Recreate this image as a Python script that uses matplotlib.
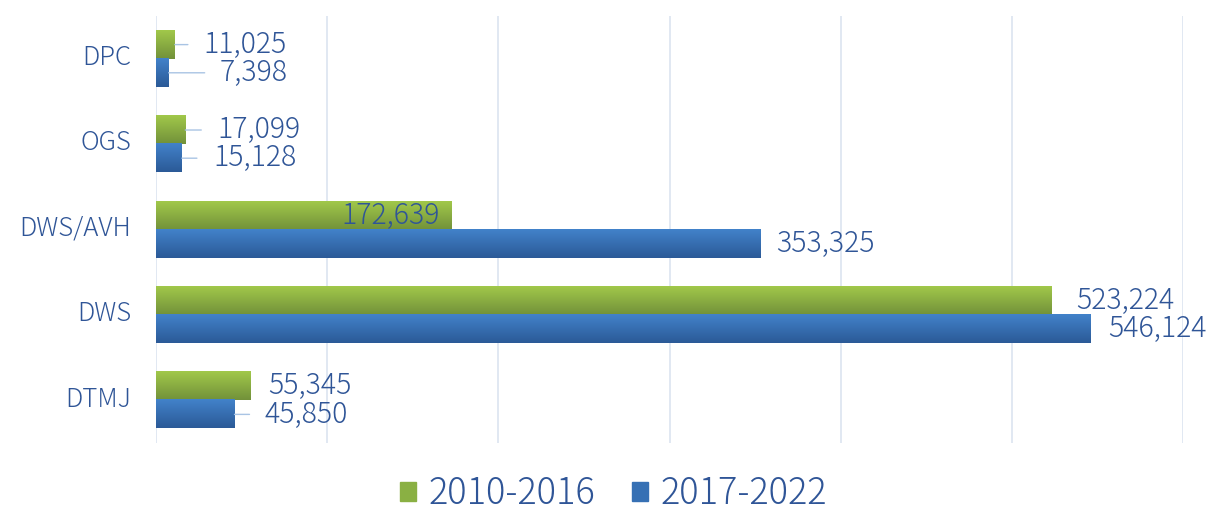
import matplotlib.pyplot as plt
import matplotlib.transforms as mtransforms
import numpy as np
from matplotlib.colors import LinearSegmentedColormap
from matplotlib.patches import Patch

plt.rcParams["font.family"] = ["Noto Sans CJK JP", "DejaVu Sans"]

categories = ["DPC", "OGS", "DWS/AVH", "DWS", "DTMJ"]
series_names = ["2010-2016", "2017-2022"]
values_2010_2016 = [11025, 17099, 172639, 523224, 55345]
values_2017_2022 = [7398, 15128, 353325, 546124, 45850]

# label placement (pixels from bar end), leader line length in pixels (0 = none)
label_off_green = [29, 32, -12, 25, 17]
line_len_green = [13, 16, 0, 0, 0]
label_off_blue = [51, 31, 15, 17, 30]
line_len_blue = [36, 15, 0, 0, 15]

text_color = "#2F5597"
grid_color = "#DCE4F0"
green_grad = ("#A1C84A", "#72913A")
blue_grad = ("#4282CA", "#2B5A97")

fig = plt.figure(figsize=(12.15, 5.14), dpi=100)
ax = fig.add_axes([156 / 1215, 1 - 443 / 514, (1183 - 156) / 1215, (443 - 16) / 514])

y = np.arange(len(categories))
h = 0.33


def grad_bars(ys, vals, colors):
    cmap = LinearSegmentedColormap.from_list("g", [colors[0], colors[1]])
    bars = ax.barh(ys, vals, height=h, color=colors[1], zorder=2)
    grad = np.linspace(0, 1, 64).reshape(-1, 1)
    for b in bars:
        x0, y0 = b.get_x(), b.get_y()
        ax.imshow(grad, cmap=cmap, aspect="auto", zorder=3,
                  extent=(x0, x0 + b.get_width(), y0 + b.get_height(), y0))
    return bars


grad_bars(y - h / 2, values_2010_2016, green_grad)
grad_bars(y + h / 2, values_2017_2022, blue_grad)


def labels(ys, vals, offs, lines):
    for yy, v, off, ln in zip(ys, vals, offs, lines):
        if ln:
            ax.annotate("", xy=(v, yy), xytext=(ln, 0), textcoords="offset pixels",
                        arrowprops=dict(arrowstyle="-", color="#A9C4E4", lw=1,
                                        shrinkA=0, shrinkB=0), zorder=4)
        ax.annotate(f"{v:,}", xy=(v, yy), xytext=(off, 0), textcoords="offset pixels",
                    ha="left" if off > 0 else "right", va="center",
                    fontsize=20.5, fontweight="light", color=text_color, zorder=5)


labels(y - h / 2, values_2010_2016, label_off_green, line_len_green)
labels(y + h / 2, values_2017_2022, label_off_blue, line_len_blue)

ax.set_xlim(0, 600000)
ax.set_ylim(len(categories) - 0.5, -0.5)
ax.set_xticks(np.arange(0, 600001, 100000))
ax.set_xticklabels([])
ax.tick_params(axis="x", length=0)
ax.tick_params(axis="y", length=0, pad=18, labelsize=18.5, labelcolor=text_color)
ax.set_yticks(y)
ax.set_yticklabels(categories, fontweight="light")
shift = mtransforms.ScaledTranslation(0, 4 / 100, fig.dpi_scale_trans)
for t in ax.get_yticklabels():
    t.set_transform(t.get_transform() + shift)
ax.grid(axis="x", color=grid_color, lw=1.2, zorder=0)
for s in ax.spines.values():
    s.set_visible(False)

handles = [Patch(color="#8AB043"), Patch(color="#3670B4")]
fig.legend(handles, series_names, loc="center", bbox_to_anchor=(0.505, 1 - 494 / 514),
           ncol=2, frameon=False, labelcolor=text_color,
           prop=dict(size=26, weight="light"),
           handlelength=0.45, handleheight=0.45, handletextpad=0.35, columnspacing=1.0)

fig.savefig("out.png", dpi=100)
